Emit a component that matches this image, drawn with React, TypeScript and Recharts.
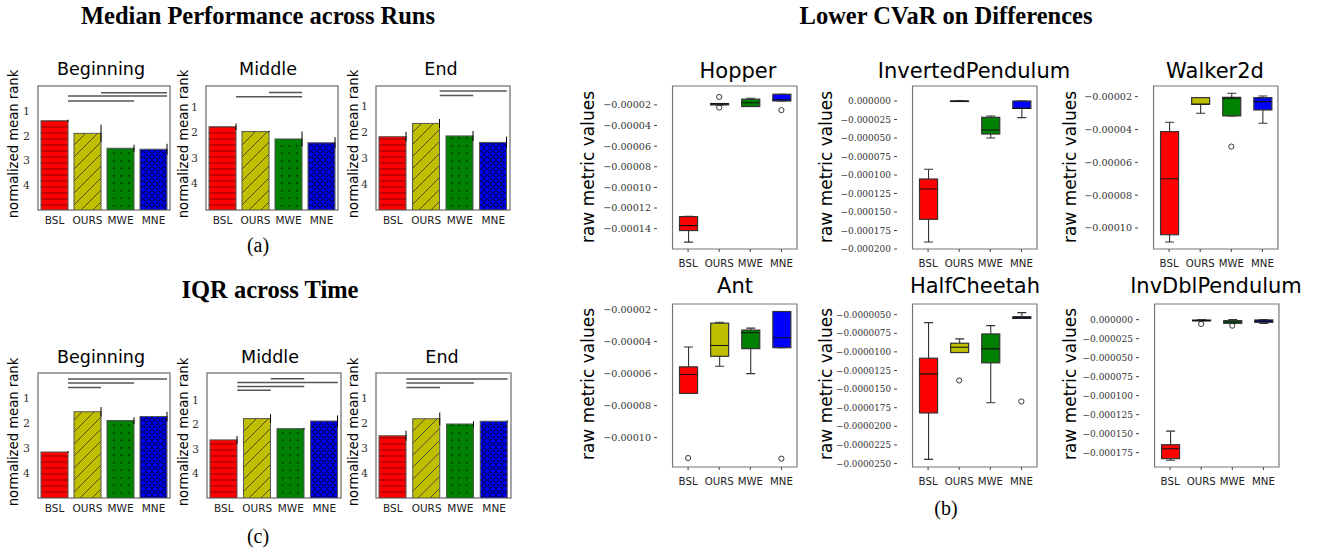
import React from 'react';
import {
  Bar,
  ComposedChart,
  ReferenceArea,
  ReferenceLine,
  Scatter,
  XAxis,
  YAxis,
} from 'recharts';

const methods = ['BSL', 'OURS', 'MWE', 'MNE'];
const boxFills = ['#ff0000', '#bfbf00', '#008000', '#0000ff'];
const rankTicks = [1, 2, 3, 4];

// (a) median performance across runs: normalized mean rank, error, significance bars [from, to, level]
const rankBeginA = [1.4, 1.91, 2.51, 2.55];
const rankBeginAErr = [0.04, 0.35, 0.14, 0.22];
const sigBeginA = [[1, 3, 0.27], [0, 3, 0.4], [0, 2, 0.6]];
const rankMiddleA = [1.78, 1.97, 2.26, 2.41];
const rankMiddleAErr = [0.13, 0.03, 0.29, 0.22];
const sigMiddleA = [[1, 2, 0.44], [0, 2, 0.6]];
const rankEndA = [2.18, 1.67, 2.15, 2.4];
const rankEndAErr = [0.19, 0.17, 0.19, 0.22];
const sigEndA = [[1, 3, 0.42], [1, 2, 0.6]];

// (c) IQR across time
const rankBeginC = [3.16, 1.55, 1.9, 1.74];
const rankBeginCErr = [0.04, 0.19, 0.13, 0.19];
const sigBeginC = [[0, 3, 0.24], [0, 2, 0.4], [0, 1, 0.58]];
const rankMiddleC = [2.63, 1.76, 2.17, 1.86];
const rankMiddleCErr = [0.16, 0.18, 0.03, 0.23];
const sigMiddleC = [[1, 2, 0.13], [0, 3, 0.29], [0, 2, 0.45], [0, 1, 0.6]];
const rankEndC = [2.51, 1.83, 2.04, 1.93];
const rankEndCErr = [0.2, 0.25, 0.11, 0.03];
const sigEndC = [[0, 3, 0.24], [0, 2, 0.4], [0, 1, 0.58]];

// (b) lower CVaR on differences: [min, q1, median, q3, max] per method
const hopperStats = [
  [-15.3e-5, -14.18e-5, -13.7e-5, -12.83e-5, -12.8e-5],
  [-2.0e-5, -2.0e-5, -1.9e-5, -1.87e-5, -1.87e-5],
  [-2.16e-5, -2.16e-5, -1.8e-5, -1.45e-5, -1.36e-5],
  [-1.62e-5, -1.62e-5, -1.5e-5, -0.97e-5, -0.97e-5],
];
const hopperOutliers = [[], [-1.23e-5, -2.26e-5], [], [-2.51e-5]];
const hopperTicks = [-2e-5, -4e-5, -6e-5, -8e-5, -10e-5, -12e-5, -14e-5];

const invPendStats = [
  [-190.5e-6, -159.9e-6, -118.9e-6, -105.4e-6, -92.3e-6],
  [0, 0, 0, 0, 0],
  [-50e-6, -44.6e-6, -39.2e-6, -22e-6, -20.3e-6],
  [-22.5e-6, -9.9e-6, -9.9e-6, 0, 0],
];
const invPendOutliers = [[], [], [], []];
const invPendTicks = [0, -25e-6, -50e-6, -75e-6, -100e-6, -125e-6, -150e-6, -175e-6, -200e-6];

const walkerStats = [
  [-10.85e-5, -10.41e-5, -7.0e-5, -4.13e-5, -3.56e-5],
  [-3.01e-5, -2.46e-5, -2.46e-5, -2.06e-5, -2.06e-5],
  [-3.17e-5, -3.17e-5, -2.1e-5, -2.04e-5, -1.79e-5],
  [-3.62e-5, -2.81e-5, -2.3e-5, -2.06e-5, -1.96e-5],
];
const walkerOutliers = [[], [], [-5.04e-5], []];
const walkerTicks = [-2e-5, -4e-5, -6e-5, -8e-5, -10e-5];

const antStats = [
  [-7.24e-5, -7.24e-5, -6.06e-5, -5.58e-5, -4.34e-5],
  [-5.54e-5, -4.92e-5, -4.24e-5, -2.85e-5, -2.79e-5],
  [-6.0e-5, -4.44e-5, -3.45e-5, -3.28e-5, -3.16e-5],
  [-4.38e-5, -4.38e-5, -3.76e-5, -2.12e-5, -2.12e-5],
];
const antOutliers = [[-11.28e-5], [], [], [-11.32e-5]];
const antTicks = [-2e-5, -4e-5, -6e-5, -8e-5, -10e-5];

const cheetahStats = [
  [-24.43e-6, -18.2e-6, -12.95e-6, -10.85e-6, -6.07e-6],
  [-10.09e-6, -10.09e-6, -9.38e-6, -8.84e-6, -8.26e-6],
  [-16.83e-6, -11.47e-6, -9.6e-6, -7.59e-6, -6.47e-6],
  [-5.5e-6, -5.5e-6, -5.44e-6, -5.27e-6, -4.73e-6],
];
const cheetahOutliers = [[], [-13.84e-6], [], [-16.66e-6]];
const cheetahTicks = [-5e-6, -7.5e-6, -10e-6, -12.5e-6, -15e-6, -17.5e-6, -20e-6, -22.5e-6, -25e-6];

const dblPendStats = [
  [-185.1e-6, -182.9e-6, -169.8e-6, -164.6e-6, -146.7e-6],
  [-1.5e-6, -1.5e-6, -1.3e-6, -0.5e-6, 0],
  [-4.8e-6, -4.8e-6, -3.0e-6, -1.3e-6, 0],
  [-4.9e-6, -3.5e-6, -2.0e-6, -0.4e-6, 0],
];
const dblPendOutliers = [[], [-5.7e-6], [-7.9e-6], []];
const dblPendTicks = [0, -25e-6, -50e-6, -75e-6, -100e-6, -125e-6, -150e-6, -175e-6];

function Txt({ x, y, size, family = 'DejaVu Sans', weight = 400, rotate = 0, children }: any) {
  return (
    <div
      style={{
        position: 'absolute',
        left: x,
        top: y,
        transform: `translate(-50%, -50%) rotate(${rotate}deg)`,
        fontFamily: family,
        fontSize: size,
        fontWeight: weight,
        lineHeight: 1,
        whiteSpace: 'nowrap',
        color: '#000',
      }}
    >
      {children}
    </div>
  );
}

function Patterns() {
  return (
    <svg width={0} height={0} style={{ position: 'absolute' }}>
      <defs>
        <pattern id="hatch-0" width={6} height={6} patternUnits="userSpaceOnUse">
          <rect width={6} height={6} fill="#ff0000" />
          <line x1={0} y1={3} x2={6} y2={3} stroke="#8b0000" strokeWidth={1} />
        </pattern>
        <pattern id="hatch-1" width={12} height={12} patternUnits="userSpaceOnUse">
          <rect width={12} height={12} fill="#bfbf00" />
          <path d="M0,12 L12,0 M-3,3 L3,-3 M9,15 L15,9" stroke="#333" strokeWidth={0.8} />
        </pattern>
        <pattern id="hatch-2" width={7.5} height={7.5} patternUnits="userSpaceOnUse">
          <rect width={7.5} height={7.5} fill="#008000" />
          <circle cx={3.75} cy={3.75} r={0.8} fill="#000" />
        </pattern>
        <pattern id="hatch-3" width={6} height={6} patternUnits="userSpaceOnUse">
          <rect width={6} height={6} fill="#0000ff" />
          <circle cx={3} cy={3} r={2.2} fill="none" stroke="#000" strokeWidth={0.8} />
        </pattern>
      </defs>
    </svg>
  );
}

const nameOf = (p: any) => (p.payload && p.payload.name) || p.name;
const span = (p: any) => {
  const y1 = Math.min(p.y, p.y + p.height);
  return [y1, y1 + Math.abs(p.height)];
};

function RankPanel({ left, top, width, height, values, errs, sig, domain }: any) {
  const data = methods.map((name, i) => ({ name, v: values[i], e: errs[i] }));
  const yw = 30;
  const mt = 4;
  const xh = 24;
  const mr = 4;
  const pad = { left: 3, right: -3 };
  const bw = 27;

  const barShape = (p: any) => {
    const [y1, y2] = span(p);
    const i = methods.indexOf(nameOf(p));
    return <rect x={p.x} y={y1} width={p.width} height={y2 - y1} fill={`url(#hatch-${i})`} stroke="#555" strokeWidth={1} />;
  };
  const errShape = (p: any) => {
    const [y1, y2] = span(p);
    return <line x1={p.x + p.width} x2={p.x + p.width} y1={y1} y2={y2} stroke="#000" strokeWidth={1} />;
  };
  const sigShape = (p: any) => (
    <line x1={p.x1 + bw / 2} y1={p.y1} x2={p.x2 + bw / 2} y2={p.y2} stroke="#555" strokeWidth={1.5} />
  );

  return (
    <div style={{ position: 'absolute', left: left - yw, top: top - mt }}>
      <ComposedChart
        width={yw + width + mr}
        height={mt + height + xh}
        data={data}
        margin={{ top: mt, right: mr, left: 0, bottom: 0 }}
      >
        <XAxis
          xAxisId="m"
          dataKey="name"
          padding={pad}
          height={xh}
          interval={0}
          tickLine={false}
          axisLine={false}
          tickSize={0}
          tickMargin={7}
          tick={{ fontFamily: 'DejaVu Sans', fontSize: 10.5, fill: '#222' }}
        />
        <XAxis xAxisId="zErr" dataKey="name" padding={pad} height={0} hide />
        <YAxis
          domain={domain}
          reversed
          ticks={rankTicks}
          interval={0}
          allowDataOverflow
          width={yw}
          tickLine={false}
          axisLine={false}
          tickSize={0}
          tickMargin={5}
          tick={{ fontFamily: 'DejaVu Serif', fontSize: 11, fill: '#333' }}
        />
        <Bar xAxisId="m" dataKey={(d: any) => [d.v, domain[1]]} barSize={bw} shape={barShape} isAnimationActive={false} />
        <Bar xAxisId="zErr" dataKey={(d: any) => [d.v - d.e, d.v + d.e]} barSize={bw} shape={errShape} isAnimationActive={false} />
        {sig.map((s: number[], k: number) => (
          <ReferenceLine
            key={k}
            xAxisId="m"
            segment={[{ x: methods[s[0]], y: s[2] }, { x: methods[s[1]], y: s[2] }]}
            shape={sigShape}
            ifOverflow="visible"
          />
        ))}
        <ReferenceArea
          xAxisId="m"
          y1={domain[0]}
          y2={domain[1]}
          fill="none"
          stroke="#888"
          strokeWidth={1.5}
          ifOverflow="visible"
        />
      </ComposedChart>
    </div>
  );
}

const fmtTick = (digits: number) => (v: number) => (v === 0 ? (0).toFixed(digits) : v.toFixed(digits).replace('-', '\u2212'));

function BoxPanel({ left, top, stats, outliers, domain, ticks, digits, tickFont = 9.4 }: any) {
  const data = methods.map((name, i) => ({
    name,
    min: stats[i][0],
    q1: stats[i][1],
    med: stats[i][2],
    q3: stats[i][3],
    max: stats[i][4],
    o1: outliers[i][0] ?? null,
    o2: outliers[i][1] ?? null,
  }));
  const width = 155.5;
  const height = 163;
  const yw = 66;
  const mt = 4;
  const xh = 26;
  const mr = 4;
  const pad = { left: width / 10, right: width / 10 };
  const bw = 18;

  const whiskerShape = (p: any) => {
    const [y1, y2] = span(p);
    const cx = p.x + p.width / 2;
    return (
      <g stroke="#333" strokeWidth={1.1}>
        <line x1={cx} x2={cx} y1={y1} y2={y2} />
        <line x1={cx - 4.5} x2={cx + 4.5} y1={y1} y2={y1} />
        <line x1={cx - 4.5} x2={cx + 4.5} y1={y2} y2={y2} />
      </g>
    );
  };
  const boxShape = (p: any) => {
    const [y1, y2] = span(p);
    const i = methods.indexOf(nameOf(p));
    return <rect x={p.x} y={y1} width={p.width} height={Math.max(y2 - y1, 0.5)} fill={boxFills[i]} stroke="#333" strokeWidth={1.2} />;
  };
  const medianShape = (p: any) => (
    <line x1={p.cx - bw / 2} x2={p.cx + bw / 2} y1={p.cy} y2={p.cy} stroke="#111" strokeWidth={1.1} />
  );
  const outlierShape = (key: string) => (p: any) => {
    if (!p.payload || p.payload[key] == null) return <g />;
    return <circle cx={p.cx} cy={p.cy} r={2.6} fill="none" stroke="#222" strokeWidth={0.9} />;
  };

  return (
    <div style={{ position: 'absolute', left: left - yw, top: top - mt }}>
      <ComposedChart
        width={yw + width + mr}
        height={mt + height + xh}
        data={data}
        margin={{ top: mt, right: mr, left: 0, bottom: 0 }}
      >
        <XAxis
          xAxisId="m"
          dataKey="name"
          padding={pad}
          height={xh}
          interval={0}
          allowDuplicatedCategory={false}
          axisLine={false}
          tickSize={3}
          tickLine={{ stroke: '#444' }}
          tickMargin={8}
          tick={{ fontFamily: 'DejaVu Sans', fontSize: 10.2, fill: '#222' }}
        />
        <XAxis xAxisId="zWhisk" dataKey="name" padding={pad} height={0} allowDuplicatedCategory={false} hide />
        <YAxis
          domain={domain}
          ticks={ticks}
          interval={0}
          allowDataOverflow
          width={yw}
          axisLine={false}
          tickSize={3}
          tickLine={{ stroke: '#444' }}
          tickMargin={3}
          tickFormatter={fmtTick(digits)}
          tick={{ fontFamily: 'DejaVu Serif', fontSize: tickFont, fill: '#333' }}
        />
        <Bar xAxisId="zWhisk" dataKey={(d: any) => [d.min, d.max]} barSize={bw} shape={whiskerShape} isAnimationActive={false} />
        <Bar xAxisId="m" dataKey={(d: any) => [d.q1, d.q3]} barSize={bw} shape={boxShape} isAnimationActive={false} />
        <Scatter xAxisId="m" dataKey="med" shape={medianShape} isAnimationActive={false} />
        <Scatter xAxisId="m" dataKey="o1" shape={outlierShape('o1')} isAnimationActive={false} />
        <Scatter xAxisId="m" dataKey="o2" shape={outlierShape('o2')} isAnimationActive={false} />
        <ReferenceArea
          xAxisId="m"
          y1={domain[0]}
          y2={domain[1]}
          fill="none"
          stroke="#777"
          strokeWidth={1.2}
          ifOverflow="visible"
        />
      </ComposedChart>
    </div>
  );
}

export default function App() {
  const serif = 'Liberation Serif';
  return (
    <div style={{ position: 'absolute', left: 0, top: 0, width: 1325, height: 550, background: '#fff', overflow: 'hidden' }}>
      <Patterns />

      <Txt x={258} y={16} size={24.5} family={serif} weight={700}>Median Performance across Runs</Txt>
      <Txt x={270} y={290} size={24.5} family={serif} weight={700}>IQR across Time</Txt>
      <Txt x={946} y={16} size={24.5} family={serif} weight={700}>Lower CVaR on Differences</Txt>

      <Txt x={101} y={70} size={17.5}>Beginning</Txt>
      <Txt x={268} y={70} size={17.5}>Middle</Txt>
      <Txt x={441} y={70} size={17.5}>End</Txt>
      <Txt x={101} y={358} size={17.5}>Beginning</Txt>
      <Txt x={270} y={358} size={17.5}>Middle</Txt>
      <Txt x={442} y={358} size={17.5}>End</Txt>

      {[13.5, 183.5, 353.5].map((x) => (
        <React.Fragment key={x}>
          <Txt x={x} y={144} size={13.2} rotate={-90}>normalized mean rank</Txt>
          <Txt x={x} y={432} size={13.2} rotate={-90}>normalized mean rank</Txt>
        </React.Fragment>
      ))}

      <RankPanel left={35} top={86} width={132} height={124} values={rankBeginA} errs={rankBeginAErr} sig={sigBeginA} domain={[0, 5]} />
      <RankPanel left={203} top={86} width={132} height={124} values={rankMiddleA} errs={rankMiddleAErr} sig={sigMiddleA} domain={[0.18, 5.05]} />
      <RankPanel left={373} top={86} width={134} height={124} values={rankEndA} errs={rankEndAErr} sig={sigEndA} domain={[0.23, 5]} />
      <RankPanel left={35} top={373} width={132} height={125} values={rankBeginC} errs={rankBeginCErr} sig={sigBeginC} domain={[0, 5]} />
      <RankPanel left={204} top={373} width={134} height={125} values={rankMiddleC} errs={rankMiddleCErr} sig={sigMiddleC} domain={[-0.1, 5]} />
      <RankPanel left={373} top={373} width={135} height={125} values={rankEndC} errs={rankEndCErr} sig={sigEndC} domain={[0, 5]} />

      <Txt x={258} y={245} size={20} family={serif}>(a)</Txt>
      <Txt x={258} y={536} size={20} family={serif}>(c)</Txt>
      <Txt x={946} y={508} size={20} family={serif}>(b)</Txt>

      <Txt x={738} y={71} size={21}>Hopper</Txt>
      <Txt x={974} y={71} size={21}>InvertedPendulum</Txt>
      <Txt x={1215} y={71} size={21}>Walker2d</Txt>
      <Txt x={735} y={286} size={21}>Ant</Txt>
      <Txt x={975} y={286} size={21}>HalfCheetah</Txt>
      <Txt x={1216} y={286} size={21}>InvDblPendulum</Txt>

      {[588, 826, 1070].map((x) => (
        <React.Fragment key={x}>
          <Txt x={x} y={167} size={17} rotate={-90}>raw metric values</Txt>
          <Txt x={x} y={384} size={17} rotate={-90}>raw metric values</Txt>
        </React.Fragment>
      ))}

      <BoxPanel left={656.7} top={86} stats={hopperStats} outliers={hopperOutliers} domain={[-15.97e-5, -0.17e-5]} ticks={hopperTicks} digits={5} tickFont={9.6} />
      <BoxPanel left={897.3} top={86} stats={invPendStats} outliers={invPendOutliers} domain={[-200e-6, 20.3e-6]} ticks={invPendTicks} digits={6} tickFont={9} />
      <BoxPanel left={1138.3} top={86} stats={walkerStats} outliers={walkerOutliers} domain={[-11.28e-5, -1.35e-5]} ticks={walkerTicks} digits={5} tickFont={9.6} />
      <BoxPanel left={656.7} top={303.5} stats={antStats} outliers={antOutliers} domain={[-11.84e-5, -1.65e-5]} ticks={antTicks} digits={5} tickFont={9.6} />
      <BoxPanel left={897.3} top={303.5} stats={cheetahStats} outliers={cheetahOutliers} domain={[-25.46e-6, -3.57e-6]} ticks={cheetahTicks} digits={7} tickFont={8.8} />
      <BoxPanel left={1138.7} top={303.5} stats={dblPendStats} outliers={dblPendOutliers} domain={[-193.9e-6, 20.6e-6]} ticks={dblPendTicks} digits={6} tickFont={9} />
    </div>
  );
}
